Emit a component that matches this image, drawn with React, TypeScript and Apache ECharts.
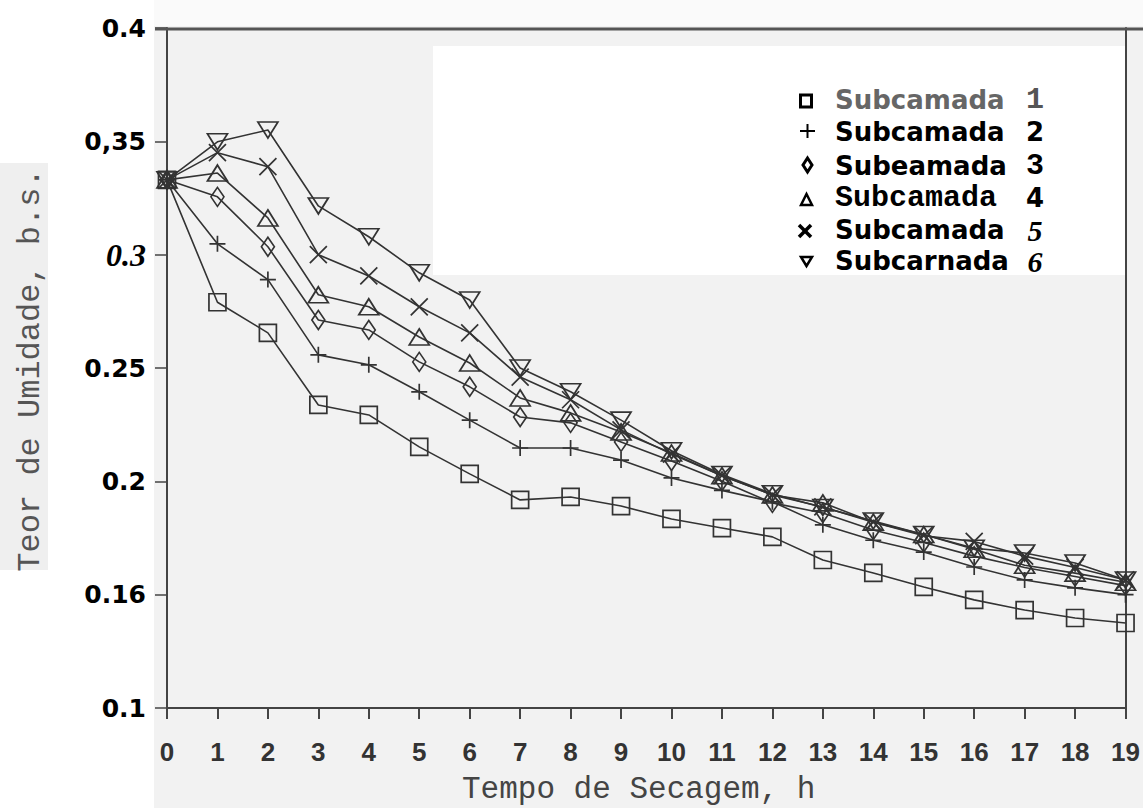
import React, { useEffect, useRef } from 'react';
import * as echarts from 'echarts';

const hours = [0, 1, 2, 3, 4, 5, 6, 7, 8, 9, 10, 11, 12, 13, 14, 15, 16, 17, 18, 19];
const sub1 = [0.333, 0.279, 0.2655, 0.2337, 0.2293, 0.2152, 0.2033, 0.1918, 0.1931, 0.1891, 0.1834, 0.1794, 0.1755, 0.1653, 0.1596, 0.1534, 0.1477, 0.1432, 0.1397, 0.1375];
const sub2 = [0.333, 0.3048, 0.289, 0.2558, 0.2514, 0.2395, 0.227, 0.2147, 0.2147, 0.2094, 0.2015, 0.196, 0.191, 0.1808, 0.174, 0.1688, 0.1622, 0.1565, 0.153, 0.150];
const sub3 = [0.333, 0.3255, 0.3035, 0.2712, 0.2668, 0.2527, 0.2417, 0.2284, 0.2258, 0.2174, 0.209, 0.2, 0.1905, 0.186, 0.1785, 0.173, 0.167, 0.162, 0.158, 0.154];
const sub4 = [0.333, 0.336, 0.3162, 0.2823, 0.277, 0.2637, 0.2522, 0.2368, 0.2302, 0.2218, 0.2125, 0.2025, 0.194, 0.1905, 0.182, 0.1765, 0.17, 0.163, 0.1595, 0.1555];
const sub5 = [0.333, 0.345, 0.3388, 0.3, 0.2906, 0.277, 0.2655, 0.246, 0.236, 0.2227, 0.212, 0.2025, 0.194, 0.1887, 0.182, 0.176, 0.1735, 0.167, 0.162, 0.1565];
const sub6 = [0.333, 0.3498, 0.355, 0.3215, 0.3079, 0.292, 0.28, 0.25, 0.2395, 0.227, 0.2135, 0.203, 0.1945, 0.1885, 0.1825, 0.1765, 0.1705, 0.1684, 0.164, 0.1565];

const seriesNames = ['Subcamada 1', 'Subcamada 2', 'Subeamada 3', 'Subcamada 4', 'Subcamada 5', 'Subcarnada 6'];
const yTickValues = [0.1, 0.15, 0.2, 0.25, 0.3, 0.35, 0.4];
const yTickLabels = ['0.1', '0.16', '0.2', '0.25', '0.3', '0,35', '0.4'];

const INK = '#333';

export default function App() {
  const ref = useRef<HTMLDivElement>(null);
  useEffect(() => {
    document.body.style.margin = '0';
    const chart = echarts.init(ref.current!, null, { renderer: 'svg' });

    const pts = (arr: number[]) => hours.map((h, i) => [h, arr[i]]);
    const baseItem = { color: 'rgba(0,0,0,0)', borderColor: INK, borderWidth: 1.7 };
    const mk = (name: string, arr: number[], symbol: string, size: any, rotate = 0) => ({
      name,
      type: 'line',
      data: pts(arr),
      symbol,
      symbolSize: size,
      symbolRotate: rotate,
      showAllSymbol: true,
      lineStyle: { color: INK, width: 1.6 },
      itemStyle: baseItem,
      emphasis: { disabled: true },
      z: 5,
    });

    const legendY = [100, 132, 166, 198, 230, 261];
    const g: any[] = [
      { type: 'rect', z: -100, silent: true, shape: { x: 0, y: 0, width: 154, height: 808 }, style: { fill: '#ffffff' } },
      { type: 'rect', z: -99, silent: true, shape: { x: 154, y: 0, width: 989, height: 26 }, style: { fill: '#fafafa' } },
      { type: 'rect', z: -99, silent: true, shape: { x: 0, y: 163, width: 48, height: 407 }, style: { fill: '#efefef' } },
      { type: 'rect', z: -99, silent: true, shape: { x: 433, y: 46, width: 694, height: 229 }, style: { fill: '#ffffff' } },
      { type: 'line', z: 50, silent: true, shape: { x1: 155, y1: 29, x2: 1143, y2: 29 }, style: { stroke: '#555', lineWidth: 3 } },
      {
        type: 'text', z: 50, x: 30, y: 370, rotation: Math.PI / 2,
        style: { text: 'Teor de Umidade, b.s.', fontFamily: 'Liberation Mono', fontSize: 32, fill: '#555', textAlign: 'center', textVerticalAlign: 'middle' },
      },
      {
        type: 'text', z: 50, x: 462, y: 789,
        style: { text: 'Tempo de Secagem, h', fontFamily: 'Liberation Mono', fontSize: 31, fill: '#444', textAlign: 'left', textVerticalAlign: 'middle' },
      },
      { type: 'rect', z: 60, shape: { x: 800.5, y: 95, width: 11, height: 12 }, style: { fill: 'none', stroke: '#000', lineWidth: 3 } },
      { type: 'line', z: 60, shape: { x1: 800, y1: 131, x2: 815, y2: 131 }, style: { stroke: '#000', lineWidth: 2 } },
      { type: 'line', z: 60, shape: { x1: 807.5, y1: 124, x2: 807.5, y2: 138 }, style: { stroke: '#000', lineWidth: 2 } },
      { type: 'polygon', z: 60, shape: { points: [[807.5, 158], [812, 165], [807.5, 172], [803, 165]] }, style: { fill: 'none', stroke: '#000', lineWidth: 3 } },
      { type: 'polygon', z: 60, shape: { points: [[806.5, 194], [812, 205], [801, 205]] }, style: { fill: 'none', stroke: '#000', lineWidth: 2.5 } },
      { type: 'line', z: 60, shape: { x1: 799, y1: 225, x2: 811, y2: 237 }, style: { stroke: '#000', lineWidth: 3.5 } },
      { type: 'line', z: 60, shape: { x1: 811, y1: 225, x2: 799, y2: 237 }, style: { stroke: '#000', lineWidth: 3.5 } },
      { type: 'polygon', z: 60, shape: { points: [[801, 257], [812, 257], [806.5, 266]] }, style: { fill: 'none', stroke: '#000', lineWidth: 2.5 } },
    ];

    const nameStyles = [
      { fontFamily: 'DejaVu Sans', fontWeight: 'bold', fontSize: 26, fill: '#666' },
      { fontFamily: 'DejaVu Sans', fontWeight: 'bold', fontSize: 26, fill: '#000' },
      { fontFamily: 'DejaVu Sans', fontWeight: 'bold', fontSize: 26, fill: '#000' },
      { fontFamily: 'Liberation Mono', fontWeight: 'bold', fontSize: 30, fill: '#000' },
      { fontFamily: 'DejaVu Sans', fontWeight: 'bold', fontSize: 26, fill: '#000' },
      { fontFamily: 'DejaVu Sans', fontWeight: 'bold', fontSize: 26, fill: '#000' },
    ];
    const numStyles = [
      { fontFamily: 'Liberation Mono', fontWeight: 'bold', fontSize: 30, fill: '#555' },
      { fontFamily: 'DejaVu Sans', fontWeight: 'bold', fontSize: 26, fill: '#000' },
      { fontFamily: 'Liberation Mono', fontWeight: 'bold', fontSize: 30, fill: '#000' },
      { fontFamily: 'DejaVu Sans', fontWeight: 'bold', fontSize: 26, fill: '#000' },
      { fontFamily: 'Liberation Serif', fontWeight: 'bold', fontStyle: 'italic', fontSize: 30, fill: '#000' },
      { fontFamily: 'Liberation Serif', fontWeight: 'bold', fontStyle: 'italic', fontSize: 30, fill: '#000' },
    ];
    seriesNames.forEach((nm, i) => {
      const sp = nm.lastIndexOf(' ');
      g.push({
        type: 'text', z: 60, x: 835, y: legendY[i],
        style: { text: nm.slice(0, sp), textAlign: 'left', textVerticalAlign: 'middle', ...nameStyles[i] },
      });
      g.push({
        type: 'text', z: 60, x: 1035, y: legendY[i],
        style: { text: nm.slice(sp + 1), textAlign: 'center', textVerticalAlign: 'middle', ...numStyles[i] },
      });
    });

    const option: any = {
      animation: false,
      backgroundColor: '#f2f2f2',
      grid: { left: 167, right: 13, top: 28, bottom: 100, containLabel: false },
      xAxis: {
        type: 'value',
        min: 0,
        max: 19,
        interval: 1,
        axisLine: { show: true, lineStyle: { color: '#444', width: 2 } },
        axisTick: { show: true, length: 11, lineStyle: { color: '#444', width: 2 } },
        axisLabel: { margin: 31, fontFamily: 'Liberation Sans', fontWeight: 'bold', fontSize: 26, color: '#333' },
        splitLine: { show: false },
      },
      yAxis: [
        {
          type: 'value',
          min: 0.1,
          max: 0.4,
          interval: 0.05,
          axisLine: { show: true, lineStyle: { color: '#444', width: 2 } },
          axisTick: { show: true, length: 12, lineStyle: { color: '#444', width: 1.5 } },
          axisLabel: {
            margin: 21,
            formatter: (v: number) => {
              const i = yTickValues.findIndex((t) => Math.abs(t - v) < 1e-6);
              const s = i >= 0 ? yTickLabels[i] : '';
              return s === '0.3' ? `{it|${s}}` : `{n|${s}}`;
            },
            rich: {
              n: { fontFamily: 'DejaVu Sans', fontWeight: 'bold', fontSize: 25, color: '#000' },
              it: { fontFamily: 'Liberation Serif', fontWeight: 'bold', fontStyle: 'italic', fontSize: 32, color: '#000' },
            },
          },
          splitLine: { show: false },
        },
        {
          type: 'value',
          position: 'right',
          min: 0.1,
          max: 0.4,
          interval: 0.05,
          axisLine: { show: true, lineStyle: { color: '#444', width: 2 } },
          axisTick: { show: false },
          axisLabel: { show: false },
          splitLine: { show: false },
        },
      ],
      series: [
        mk(seriesNames[0], sub1, 'rect', 17),
        mk(seriesNames[1], sub2, 'path://M0,8L16,8M8,0L8,16', 16),
        mk(seriesNames[2], sub3, 'diamond', [13, 19]),
        mk(seriesNames[3], sub4, 'triangle', [20, 16]),
        mk(seriesNames[4], sub5, 'path://M0,0L16,16M16,0L0,16', 17),
        mk(seriesNames[5], sub6, 'triangle', [20, 16], 180),
      ],
      graphic: g,
    };
    chart.setOption(option);
    return () => chart.dispose();
  }, []);
  return <div ref={ref} style={{ width: 1143, height: 808 }} />;
}
